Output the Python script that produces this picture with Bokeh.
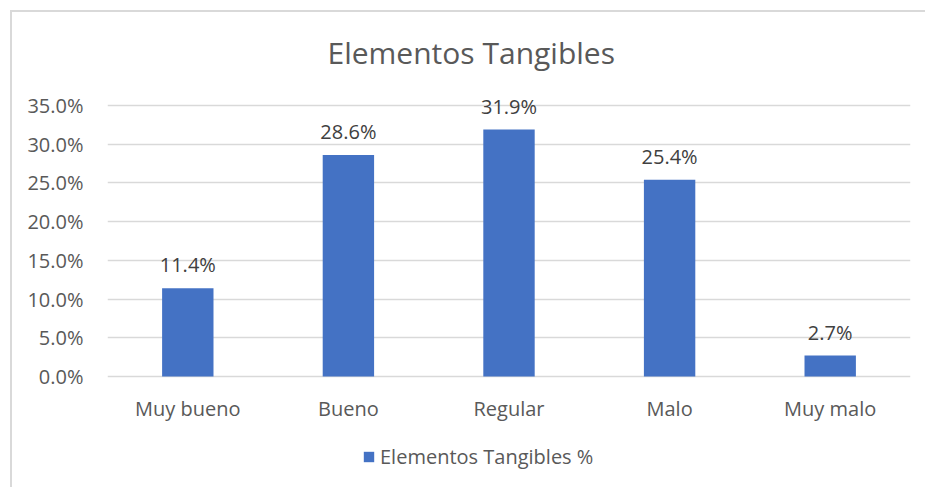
from bokeh.plotting import figure
from bokeh.models import ColumnDataSource, LabelSet, Legend, LegendItem, NumeralTickFormatter, FixedTicker
from bokeh.core.properties import value
from bokeh.embed import file_html
from bokeh.resources import INLINE

categories = ["Muy bueno", "Bueno", "Regular", "Malo", "Muy malo"]
values = [0.114, 0.286, 0.319, 0.254, 0.027]
labels = ["11.4%", "28.6%", "31.9%", "25.4%", "2.7%"]
y_ticks = [0.0, 0.05, 0.10, 0.15, 0.20, 0.25, 0.30, 0.35]
title_text = "Elementos Tangibles"
series_name = "Elementos Tangibles %"

FONT = "Open Sans"
BAR = "#4472C4"
GRID = "#D9D9D9"
TXT = "#595959"

# Frame geometry in pixels: the 0%..35% span is 271px tall; the frame runs
# 17px above the 35% line (room for value labels) and 113px below the 0%
# line, where the category labels and the legend are drawn.
AXIS_H = 271
HEADROOM = 17
FOOTROOM = 113
per_px = 0.35 / AXIS_H
y_top = 0.35 + HEADROOM * per_px
y_bottom = -FOOTROOM * per_px

src = ColumnDataSource(dict(cat=categories, val=values, lab=labels))

p = figure(
    x_range=categories, y_range=(y_bottom, y_top),
    width=915, height=477,
    output_backend="svg", toolbar_location=None,
    min_border_left=95, min_border_right=17,
    min_border_top=76, min_border_bottom=0,
)
p.styles = {
    "margin-left": "10px", "margin-top": "10px",
    "border-left": "2px solid #D9D9D9", "border-top": "2px solid #D9D9D9",
}
p.outline_line_color = None
p.background_fill_color = "white"
p.border_fill_color = "white"

# title above the frame
p.title.text = title_text
p.title.align = "left"
p.title.offset = 220
p.title.standoff = 32
p.title.text_font = FONT
p.title.text_font_size = "30px"
p.title.text_font_style = "normal"
p.title.text_color = TXT

bars = p.vbar(x="cat", top="val", bottom=0, width=0.32, source=src,
              fill_color=BAR, line_color=None)

p.xaxis.visible = False
p.xgrid.grid_line_color = None
p.ygrid.grid_line_color = GRID
p.ygrid.grid_line_width = 1.5

p.yaxis.ticker = FixedTicker(ticks=y_ticks)
p.yaxis.formatter = NumeralTickFormatter(format="0.0%")
ax = p.yaxis[0]
ax.axis_line_color = None
ax.major_tick_line_color = None
ax.minor_tick_line_color = None
ax.major_label_text_color = TXT
ax.major_label_text_font = FONT
ax.major_label_text_font_size = "20px"
ax.major_label_standoff = 18
p.x_range.range_padding = 0.0

# value labels above the bars
p.add_layout(LabelSet(
    x="cat", y="val", text="lab", source=src,
    text_align="center", text_baseline="alphabetic", y_offset=16,
    text_font=value(FONT), text_font_size=value("20px"), text_color="#404040",
))

# category labels under the 0% line
p.add_layout(LabelSet(
    x="cat", y=0, text="cat", source=src,
    text_align="center", text_baseline="alphabetic", y_offset=-39,
    text_font=value(FONT), text_font_size=value("20px"), text_color=TXT,
))

legend = Legend(
    items=[LegendItem(label=series_name, renderers=[bars])],
    location=(255, 19), orientation="horizontal",
    glyph_width=13, glyph_height=13, label_standoff=5,
    label_text_font=FONT, label_text_font_size="20px", label_text_color=TXT,
    border_line_color=None, background_fill_alpha=0, padding=0, margin=0,
)
p.add_layout(legend)

open("out.html", "w").write(file_html(p, INLINE))
